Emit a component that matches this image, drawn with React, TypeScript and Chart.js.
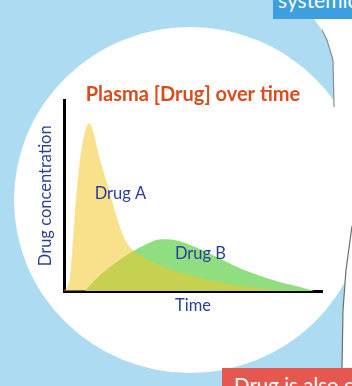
import React, { useEffect, useRef } from "react";
import { Chart, registerables } from "chart.js";

Chart.register(...registerables);

// Time axis (arbitrary units 0-100) and concentration (0-100)
const timeA = [0, 2.3, 4.3, 6.2, 9.8, 14.0, 17.8, 21.7, 24.4, 29.5, 37.2, 48.8, 61.6, 74.8, 83.7, 89.5];
const concA = [0, 7.3, 42.4, 68.6, 88.1, 68.6, 51.3, 33.5, 25.1, 18.8, 13.6, 8.4, 4.2, 1.6, 0.5, 0];

const timeB = [8.1, 11.2, 17.8, 23.6, 29.5, 37.9, 45.0, 55.4, 68.2, 81.0, 91.5, 96.5];
const concB = [0, 4.7, 12.6, 18.3, 23.0, 27.2, 26.2, 20.4, 12.0, 5.8, 2.1, 0.3];

const seriesNames = ["Drug A", "Drug B"];
const labelX = [21.9, 52.9];
const labelY = [51.3, 19.4];

const chartTitle = "Plasma [Drug] over time";
const xTitle = "Time";
const yTitle = "Drug concentration";

const textBlue = "#2c3e9c";

const seriesLabels = {
  id: "seriesLabels",
  afterDatasetsDraw(chart: any) {
    const { ctx, scales } = chart;
    ctx.save();
    ctx.font = "16.5px Lato";
    ctx.fillStyle = textBlue;
    ctx.textAlign = "center";
    ctx.textBaseline = "middle";
    seriesNames.forEach((name, i) => {
      ctx.fillText(name, scales.x.getPixelForValue(labelX[i]), scales.y.getPixelForValue(labelY[i]));
    });
    ctx.restore();
  },
};

export default function App() {
  const canvasRef = useRef<HTMLCanvasElement | null>(null);

  useEffect(() => {
    if (!canvasRef.current) return;
    const chart = new Chart(canvasRef.current, {
      type: "line",
      data: {
        datasets: [
          {
            label: seriesNames[0],
            data: timeA.map((t, i) => ({ x: t, y: concA[i] })),
            fill: "origin",
            backgroundColor: "rgba(244,199,42,0.55)",
            borderWidth: 0,
            pointRadius: 0,
            tension: 0.4,
            cubicInterpolationMode: "monotone",
          },
          {
            label: seriesNames[1],
            data: timeB.map((t, i) => ({ x: t, y: concB[i] })),
            fill: "origin",
            backgroundColor: "#90de80",
            borderWidth: 0,
            pointRadius: 0,
            tension: 0.4,
            cubicInterpolationMode: "monotone",
          },
        ],
      },
      options: {
        responsive: false,
        animation: false,
        layout: { padding: { left: 30, right: 30, top: 86.5, bottom: 70 } },
        plugins: {
          legend: { display: false },
          tooltip: { enabled: false },
          title: {
            display: true,
            text: chartTitle,
            color: "#d84c1e",
            fullSize: false,
            padding: { top: 0, bottom: -2 },
            font: { family: "Lato", size: 20, weight: "bold", lineHeight: 0.8 },
          },
        },
        scales: {
          x: {
            type: "linear",
            min: 0,
            max: 100,
            grid: { display: false, drawTicks: false },
            ticks: { display: false },
            border: { display: true, color: "#000", width: 3 },
            title: {
              display: true,
              text: xTitle,
              color: textBlue,
              font: { family: "Lato", size: 16.5, lineHeight: 1.2 },
              padding: { top: 5.1, bottom: 0 },
            },
          },
          y: {
            min: 0,
            max: 100,
            grid: { display: false, drawTicks: false },
            ticks: { display: false },
            border: { display: true, color: "#000", width: 3 },
            title: {
              display: true,
              text: yTitle,
              color: textBlue,
              font: { family: "Lato", size: 16.5, lineHeight: 1.2 },
              padding: { top: 6.1, bottom: 8.1 },
            },
          },
        },
      },
      plugins: [seriesLabels],
    } as any);
    return () => chart.destroy();
  }, []);

  return (
    <div style={{ position: "absolute", left: 0, top: 0, width: 352, height: 386, overflow: "hidden" }}>
      <svg width={352} height={386} style={{ position: "absolute", left: 0, top: 0 }}>
        <rect x={0} y={0} width={352} height={386} fill="#addcf2" />
        <ellipse cx={190} cy={200} rx={176} ry={173} fill="#ffffff" />
        <polygon points="314,19 352,19 352,210 340,210 334,107 333,60 327,40 322,30" fill="#ffffff" />
        <polyline points="322,30 327,40 333,60 334,107" stroke="#8c8c8c" strokeWidth={1.2} fill="none" />
        <polygon points="352,226 346,270 343,310 342,368 352,368" fill="#ffffff" />
        <polyline points="352,226 346,270 343,310 342,368" stroke="#6e6e6e" strokeWidth={1.2} fill="none" />
        <rect x={273} y={0} width={80} height={19} fill="#3d9fe0" />
        <text x={278} y={8} fill="#ffffff" fontFamily="Lato" fontSize={21}>systemic</text>
        <rect x={222} y={368} width={130} height={18} fill="#e5574f" />
        <text x={234} y={393} fill="#ffffff" fontFamily="Lato" fontSize={20.5}>Drug is also c</text>
      </svg>
      <canvas
        ref={canvasRef}
        width={352}
        height={386}
        style={{ position: "absolute", left: 0, top: 0, width: 352, height: 386 }}
      />
    </div>
  );
}
